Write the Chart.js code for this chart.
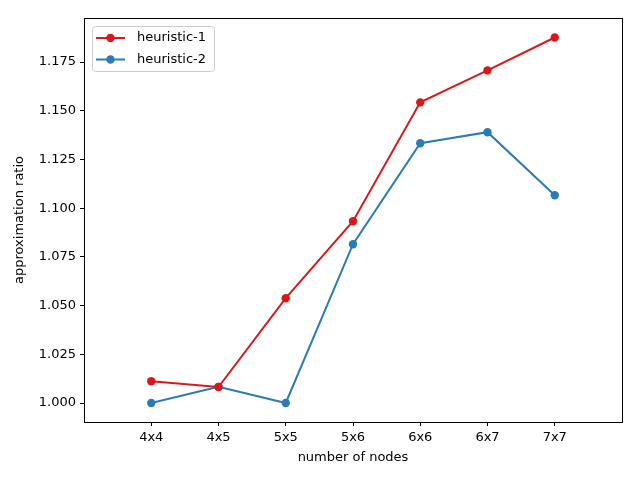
<!DOCTYPE html>
<html>
<head>
<meta charset="utf-8">
<script src="https://cdn.jsdelivr.net/npm/chart.js@4.4.0/dist/chart.umd.min.js"></script>
<style>
  html, body { margin: 0; padding: 0; background: #fff; }
  #chart { display: block; }
</style>
</head>
<body>
<canvas id="chart" width="640" height="480"></canvas>
<script>
/*==== data ====*/
const categories = ['4x4', '4x5', '5x5', '5x6', '6x6', '6x7', '7x7'];
const heuristic1 = [1.0112, 1.0082, 1.0538, 1.0933, 1.1543, 1.1707, 1.1876];
const heuristic2 = [1.0000, 1.0083, 1.0000, 1.0815, 1.1333, 1.1390, 1.1066];
const yTicks = [1.000, 1.025, 1.050, 1.075, 1.100, 1.125, 1.150, 1.175];

const RED = '#d7191c';
const BLUE = '#2c7bb6';
const FONT = "'DejaVu Sans', sans-serif";

function toPoints(values) {
    return values.map(function (v, i) { return { x: i, y: v }; });
}

/*==== plugins ====*/
// box round the plot area (matplotlib spines)
const frame = {
    id: 'frame',
    afterDatasetsDraw: function (chart) {
        const a = chart.chartArea, ctx = chart.ctx;
        ctx.save();
        ctx.strokeStyle = '#000';
        ctx.lineWidth = 1;
        ctx.strokeRect(Math.round(a.left) + 0.5, Math.round(a.top) + 0.5,
            Math.round(a.right - a.left), Math.round(a.bottom - a.top));
        ctx.restore();
    }
};

// legend with line + marker like matplotlib
const mplLegend = {
    id: 'mplLegend',
    afterDraw: function (chart) {
        const a = chart.chartArea, ctx = chart.ctx;
        const x0 = a.left + 8, y0 = a.top + 8, w = 122, h = 45, r = 3;
        ctx.save();
        ctx.fillStyle = 'rgba(255,255,255,0.8)';
        ctx.strokeStyle = '#cccccc';
        ctx.lineWidth = 1;
        ctx.beginPath();
        ctx.roundRect(x0 + 0.5, y0 + 0.5, w, h, r);
        ctx.fill();
        ctx.stroke();
        ctx.font = '13px ' + FONT;
        ctx.textBaseline = 'middle';
        chart.data.datasets.forEach(function (ds, i) {
            const y = y0 + 12 + i * 21.5;
            ctx.strokeStyle = ds.borderColor;
            ctx.lineWidth = 2;
            ctx.beginPath();
            ctx.moveTo(x0 + 4, y);
            ctx.lineTo(x0 + 33, y);
            ctx.stroke();
            ctx.fillStyle = ds.backgroundColor;
            ctx.beginPath();
            ctx.arc(x0 + 18.5, y, 4.2, 0, Math.PI * 2);
            ctx.fill();
            ctx.fillStyle = '#000';
            ctx.fillText(ds.label, x0 + 45, y);
        });
        ctx.restore();
    }
};

/*==== config ====*/
const config = {
    type: 'line',
    data: {
        datasets: [
            {
                label: 'heuristic-1',
                data: toPoints(heuristic1),
                borderColor: RED,
                backgroundColor: RED,
                borderWidth: 2,
                pointRadius: 4.2,
                pointBorderWidth: 0,
                pointHoverRadius: 4.2
            },
            {
                label: 'heuristic-2',
                data: toPoints(heuristic2),
                borderColor: BLUE,
                backgroundColor: BLUE,
                borderWidth: 2,
                pointRadius: 4.2,
                pointBorderWidth: 0,
                pointHoverRadius: 4.2
            }
        ]
    },
    options: {
        responsive: false,
        animation: false,
        layout: { padding: { left: 0, right: 18, top: 18, bottom: 0 } },
        plugins: {
            legend: { display: false },
            tooltip: { enabled: false }
        },
        scales: {
            x: {
                type: 'linear',
                min: -1,
                max: 7,
                afterBuildTicks: function (scale) {
                    scale.ticks = categories.map(function (c, i) { return { value: i }; });
                },
                afterFit: function (scale) { scale.height = 58; },
                border: { display: false },
                grid: { drawOnChartArea: false, drawTicks: true, tickLength: 4, color: '#000' },
                ticks: {
                    color: '#000',
                    padding: 4,
                    maxRotation: 0,
                    font: { family: FONT, size: 13 },
                    callback: function (v) { return categories[v]; }
                },
                title: {
                    display: true,
                    text: 'number of nodes',
                    color: '#000',
                    font: { family: FONT, size: 13 },
                    padding: { top: 0, bottom: 15 }
                }
            },
            y: {
                min: 0.99025,
                max: 1.1976,
                afterBuildTicks: function (scale) {
                    scale.ticks = yTicks.map(function (v) { return { value: v }; });
                },
                afterFit: function (scale) { scale.width = 84; },
                border: { display: false },
                grid: { drawOnChartArea: false, drawTicks: true, tickLength: 4, color: '#000' },
                ticks: {
                    color: '#000',
                    padding: 4,
                    font: { family: FONT, size: 13 },
                    callback: function (v) { return v.toFixed(3); }
                },
                title: {
                    display: true,
                    text: 'approximation ratio',
                    color: '#000',
                    font: { family: FONT, size: 13 },
                    padding: { top: 12, bottom: 0 }
                }
            }
        }
    },
    plugins: [frame, mplLegend]
};

/*===== render =====*/
var chart = new Chart(document.getElementById('chart'), config);
</script>
</body>
</html>
